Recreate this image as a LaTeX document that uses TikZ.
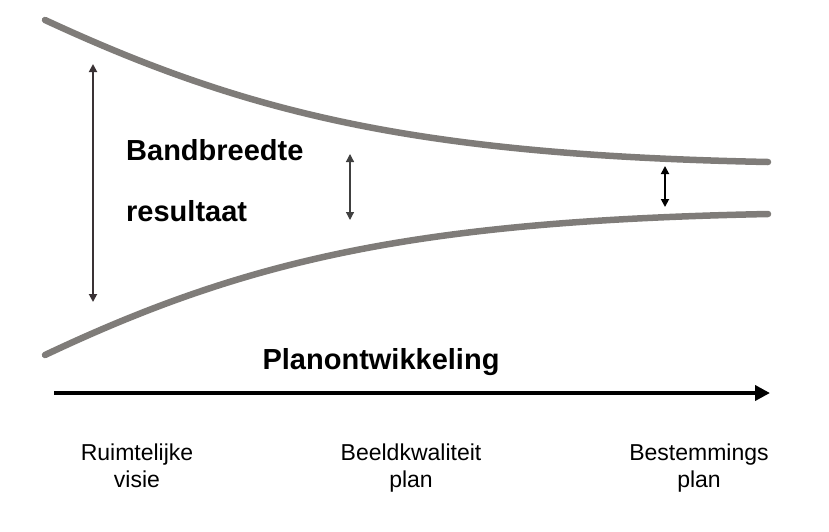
\documentclass[tikz,border=0pt]{standalone}
\usepackage{fontspec}
\setmainfont{Liberation Sans}
\usetikzlibrary{arrows.meta}
\begin{document}
\begin{tikzpicture}[x=1pt,y=-1pt,
  band/.style={line width=6.5pt,color=bandgray,line cap=round},
  gap/.style={{Triangle[length=8pt,width=8pt]}-{Triangle[length=8pt,width=8pt]}},
  bigtext/.style={font=\fontsize{29}{30}\selectfont\bfseries,inner sep=0pt},
  stage/.style={font=\fontsize{23}{27.5}\selectfont,align=center,inner sep=0pt,anchor=base}]
\definecolor{bandgray}{HTML}{7F7C79}
\definecolor{arrowdark}{HTML}{3A3235}
\useasboundingbox (0,0) rectangle (829,531);
% funnel edges
\draw[band] (45,20) .. controls (250,115) and (420,155) .. (768,162);
\draw[band] (45,355) .. controls (250,258) and (420,221) .. (768,214);
% width markers
\coordinate (l1) at (93,64);  \coordinate (l2) at (93,302);
\coordinate (m1) at (350,154); \coordinate (m2) at (350,220);
\coordinate (r1) at (665,166); \coordinate (r2) at (665,207);
\draw[gap,line width=1.8pt,arrowdark] (l1) -- (l2);
\draw[gap,line width=1.2pt,color=black!75] (m1) -- (m2);
\draw[gap,line width=1.8pt,black] (r1) -- (r2);
% labels
\node[bigtext,anchor=west] (band) at (126,150) {Bandbreedte};
\node[bigtext,anchor=west] (res) at (126,211) {resultaat};
\node[bigtext] (plan) at (381,362) {Planontwikkeling};
% time axis
\coordinate (a1) at (54,393); \coordinate (a2) at (770,393);
\draw[line width=4pt,-{Triangle[length=15pt,width=15pt]}] (a1) -- (a2);
% stages, placed by the baseline of their second line
\node[stage] (s1) at (137,487.5) {Ruimtelijke\\visie};
\node[stage] (s2) at (411,487.5) {Beeldkwaliteit\\plan};
\node[stage] (s3) at (699,487.5) {Bestemmings\\plan};
\end{tikzpicture}
\end{document}
